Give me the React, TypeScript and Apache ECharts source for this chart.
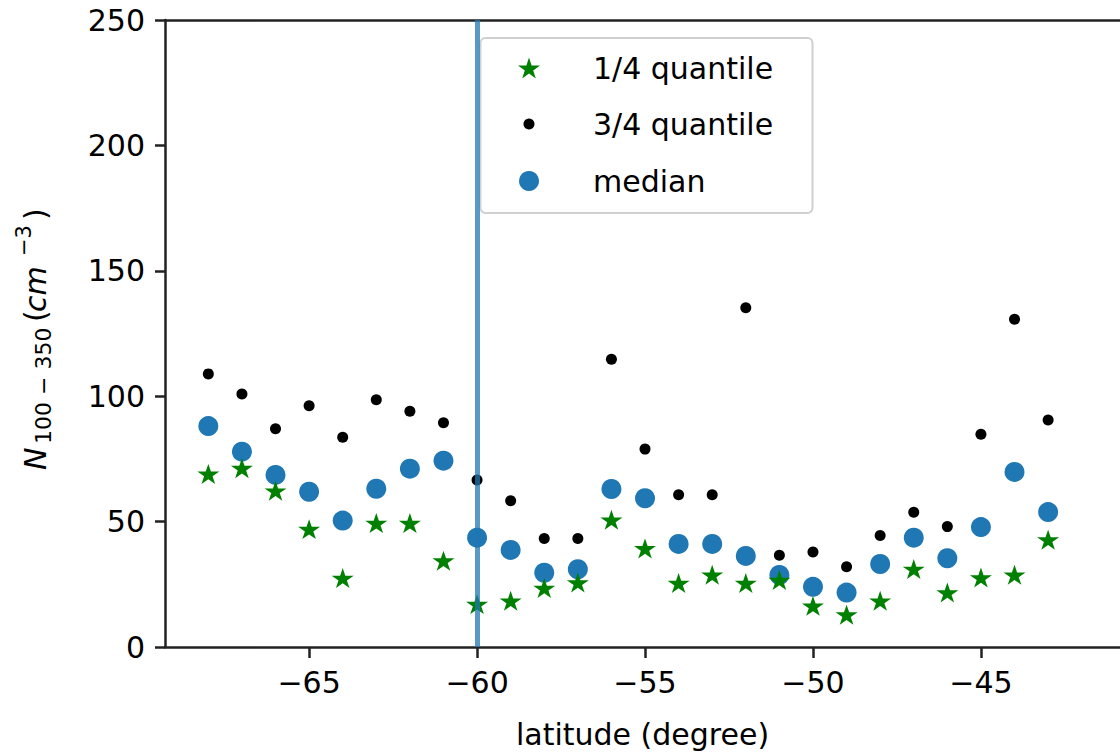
import React, { useEffect, useRef } from 'react';
import * as echarts from 'echarts';

const latitudes = [-68, -67, -66, -65, -64, -63, -62, -61, -60, -59, -58, -57, -56, -55, -54, -53, -52, -51, -50, -49, -48, -47, -46, -45, -44, -43];
const quantile1 = [69.0, 71.3, 62.3, 47.0, 27.5, 49.4, 49.4, 34.4, 17.1, 18.4, 23.5, 25.7, 50.7, 39.3, 25.5, 28.8, 25.5, 26.7, 16.4, 12.9, 18.4, 31.1, 21.7, 27.7, 28.8, 42.8];
const quantile3 = [108.9, 100.9, 87.0, 96.2, 83.6, 98.6, 94.0, 89.4, 66.6, 58.3, 43.3, 43.3, 114.7, 78.9, 60.7, 60.7, 135.3, 36.6, 37.9, 32.0, 44.5, 53.7, 48.0, 84.8, 130.7, 90.5];
const medians = [88.1, 77.9, 68.6, 61.9, 50.4, 63.1, 71.1, 74.3, 43.6, 38.7, 29.6, 31.0, 63.0, 59.3, 41.1, 41.1, 36.3, 28.7, 24.0, 21.7, 33.1, 43.6, 35.4, 47.8, 69.8, 53.8];
const xTicks = [-65, -60, -55, -50, -45];
const boundaryLatitude = -60;
const seriesNames = ['1/4 quantile', '3/4 quantile', 'median'];

const FONT = 'DejaVu Sans';
const AXIS_COLOR = '#222';

function starPath(): string {
  const pts: string[] = [];
  for (let i = 0; i < 10; i++) {
    const a = (-90 + i * 36) * Math.PI / 180;
    const r = i % 2 === 0 ? 1 : 0.382;
    pts.push(`${(r * Math.cos(a)).toFixed(4)} ${(r * Math.sin(a)).toFixed(4)}`);
  }
  return 'path://M' + pts.join(' L') + ' Z';
}

const fmtTick = (v: number) => (v < 0 ? '\u2212' + Math.abs(v) : String(v));

export default function App() {
  const ref = useRef<HTMLDivElement>(null);
  useEffect(() => {
    document.body.style.margin = '0';
    const chart = echarts.init(ref.current!, null, { renderer: 'svg' });
    const star = starPath();
    const pairs = (vals: number[]) => latitudes.map((lat, i) => [lat, vals[i]]);
    const legendText = (padLeft: number, lh: number) => ({
      fontSize: 30, fontFamily: FONT, color: '#000', lineHeight: lh, padding: [0, 0, 0, padLeft],
    });
    const yLabelStyle = (text: string, x: number, y: number, size: number, italic: boolean) => ({
      type: 'text',
      style: {
        text, x, y, fontSize: size, fontFamily: FONT, fontStyle: italic ? 'italic' : 'normal',
        fill: '#000', textAlign: 'left', textVerticalAlign: 'middle',
      },
    });
    const option: any = {
      animation: false,
      grid: { left: 165, right: 0, top: 20, bottom: 109, containLabel: false },
      xAxis: [
        {
          type: 'value', min: -69.29, max: -40.86, position: 'bottom',
          axisLine: { show: true, onZero: false, lineStyle: { color: AXIS_COLOR, width: 2.5 } },
          axisTick: { show: true, length: 11, customValues: xTicks, lineStyle: { color: AXIS_COLOR, width: 2.5 } },
          axisLabel: { customValues: xTicks, formatter: fmtTick, fontSize: 30, fontFamily: FONT, color: '#000', margin: 20 },
          splitLine: { show: false },
          name: 'latitude (degree)', nameLocation: 'middle', nameGap: 72,
          nameTextStyle: { fontSize: 30, fontFamily: FONT, color: '#000' },
        },
        {
          type: 'value', min: -69.29, max: -40.86, position: 'top',
          axisLine: { show: true, onZero: false, lineStyle: { color: AXIS_COLOR, width: 2.5 } },
          axisTick: { show: false }, axisLabel: { show: false }, splitLine: { show: false },
        },
      ],
      yAxis: {
        type: 'value', min: 0, max: 250, interval: 50,
        axisLine: { show: true, onZero: false, lineStyle: { color: AXIS_COLOR, width: 2.5 } },
        axisTick: { show: true, length: 10, lineStyle: { color: AXIS_COLOR, width: 2.5 } },
        axisLabel: { fontSize: 30, fontFamily: FONT, color: '#000', margin: 20 },
        splitLine: { show: false },
      },
      legend: [
        {
          data: [seriesNames[0]], left: 518, top: 53, itemWidth: 22, itemHeight: 21, padding: 0,
          selectedMode: false, textStyle: legendText(48, 21),
        },
        {
          data: [seriesNames[1]], left: 523.5, top: 109, itemWidth: 11, itemHeight: 11, padding: 0,
          selectedMode: false, textStyle: legendText(53.5, 11),
        },
        {
          data: [seriesNames[2]], left: 519, top: 166, itemWidth: 20, itemHeight: 20, padding: 0,
          selectedMode: false, textStyle: legendText(49, 20),
        },
      ],
      graphic: [
        {
          type: 'rect', z: 3,
          shape: { x: 480.5, y: 38, width: 332, height: 175, r: 5 },
          style: { fill: 'rgba(255,255,255,0.8)', stroke: '#d0d0d0', lineWidth: 2 },
        },
        {
          type: 'group', x: 35, y: 470, rotation: Math.PI / 2,
          children: [
            yLabelStyle('N', 0, 0, 30, true),
            yLabelStyle('100 \u2212 350', 26, 8, 22, false),
            yLabelStyle('(', 148, 0, 30, false),
            yLabelStyle('cm', 158, 0, 30, true),
            yLabelStyle('\u22123', 214, -11, 21, false),
            yLabelStyle(')', 250, 0, 30, false),
          ],
        },
      ],
      series: [
        {
          name: seriesNames[2], type: 'scatter', data: pairs(medians),
          symbol: 'circle', symbolSize: 20, itemStyle: { color: '#1f77b4', opacity: 1 }, z: 2,
        },
        {
          name: seriesNames[1], type: 'scatter', data: pairs(quantile3),
          symbol: 'circle', symbolSize: 11, itemStyle: { color: '#000', opacity: 1 }, z: 2,
        },
        {
          name: seriesNames[0], type: 'scatter', data: pairs(quantile1),
          symbol: star, symbolSize: [22, 21], symbolKeepAspect: true, itemStyle: { color: '#008000', opacity: 1 }, z: 2,
        },
        {
          name: 'boundary', type: 'scatter', data: [], z: 3,
          markLine: {
            silent: true, symbol: ['none', 'none'], label: { show: false },
            lineStyle: { color: '#1f77b4', width: 5, type: 'solid', opacity: 0.75 },
            data: [{ xAxis: boundaryLatitude }],
          },
        },
      ],
    };
    chart.setOption(option);
    return () => chart.dispose();
  }, []);
  return <div ref={ref} style={{ width: 1120, height: 756 }} />;
}
